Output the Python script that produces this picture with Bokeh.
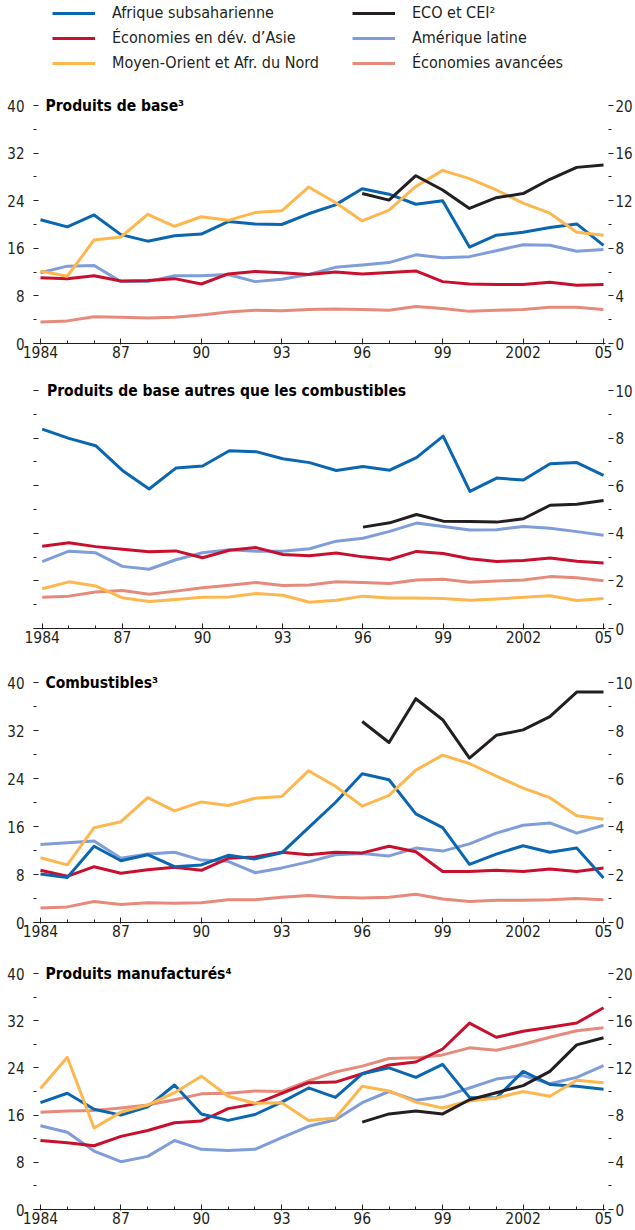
from bokeh.plotting import figure
from bokeh.models import Range1d, LinearAxis, FixedTicker, Label, Legend, LegendItem
from bokeh.layouts import column
from bokeh.embed import file_html
from bokeh.resources import INLINE

# ---------------- data ----------------
years = list(range(1984, 2006))
years_eco = list(range(1996, 2006))

names = ["Afrique subsaharienne", "Économies en dév. d’Asie", "Moyen-Orient et Afr. du Nord",
         "ECO et CEI²", "Amérique latine", "Économies avancées"]
colors = ["#0a66b0", "#c8102e", "#fdb74f", "#231f20", "#7f9dd9", "#e68a7c"]

# Panel 1: Produits de base (left scale 0-40)
p1_afrique = [20.8, 19.6, 21.6, 18.3, 17.2, 18.1, 18.4, 20.5, 20.1, 20.0, 21.8, 23.3,
              26.0, 25.1, 23.4, 24.0, 16.2, 18.2, 18.7, 19.5, 20.1, 16.5]
p1_asie = [11.05, 10.9, 11.4, 10.5, 10.6, 10.9, 10.0, 11.7, 12.1, 11.9, 11.6, 12.0,
           11.7, 11.95, 12.2, 10.4, 10.0, 9.9, 9.9, 10.3, 9.8, 9.9]
p1_moyen_orient = [12.2, 11.3, 17.4, 17.9, 21.7, 19.7, 21.3, 20.7, 22.0, 22.3, 26.3, 23.7,
                   20.6, 22.4, 26.4, 29.1, 27.7, 25.8, 23.6, 21.9, 18.7, 18.2]
p1_eco = [25.2, 24.1, 28.2, 25.8, 22.7, 24.5, 25.2, 27.6, 29.6, 30.0]
p1_amerique = [11.9, 13.0, 13.1, 10.4, 10.4, 11.4, 11.4, 11.6, 10.4, 10.8, 11.6, 12.8,
               13.2, 13.6, 14.9, 14.4, 14.6, 15.6, 16.6, 16.5, 15.5, 15.8]
p1_avancees = [3.6, 3.8, 4.5, 4.4, 4.3, 4.4, 4.8, 5.3, 5.6, 5.5, 5.7, 5.8,
               5.7, 5.6, 6.2, 5.9, 5.4, 5.6, 5.7, 6.1, 6.1, 5.7]

# Panel 2: Produits de base autres que les combustibles (right scale 0-10)
p2_afrique = [8.38, 7.99, 7.68, 6.64, 5.86, 6.74, 6.83, 7.47, 7.43, 7.13, 6.97, 6.64,
              6.81, 6.65, 7.18, 8.08, 5.76, 6.32, 6.24, 6.92, 6.97, 6.43]
p2_asie = [3.46, 3.60, 3.44, 3.33, 3.22, 3.26, 2.97, 3.29, 3.40, 3.11, 3.06, 3.17,
           3.01, 2.90, 3.24, 3.15, 2.93, 2.82, 2.86, 2.96, 2.83, 2.75]
p2_moyen_orient = [1.67, 1.96, 1.79, 1.29, 1.13, 1.22, 1.31, 1.32, 1.47, 1.40, 1.10, 1.19,
                   1.36, 1.28, 1.28, 1.26, 1.19, 1.24, 1.31, 1.38, 1.18, 1.26]
p2_eco = [4.26, 4.44, 4.79, 4.51, 4.50, 4.47, 4.61, 5.18, 5.22, 5.38]
p2_amerique = [2.81, 3.25, 3.18, 2.61, 2.49, 2.89, 3.18, 3.31, 3.25, 3.25, 3.35, 3.67,
               3.79, 4.08, 4.43, 4.29, 4.14, 4.15, 4.29, 4.21, 4.07, 3.92]
p2_avancees = [1.31, 1.36, 1.53, 1.60, 1.44, 1.57, 1.71, 1.82, 1.93, 1.81, 1.83, 1.96,
               1.93, 1.89, 2.04, 2.07, 1.94, 2.00, 2.04, 2.18, 2.13, 2.01]

# Panel 3: Combustibles (left scale 0-40)
p3_afrique = [8.1, 7.5, 12.7, 10.3, 11.3, 9.3, 9.6, 11.2, 10.6, 11.6, 15.8, 20.0,
              24.8, 23.8, 18.1, 15.8, 9.7, 11.4, 12.8, 11.7, 12.4, 7.4]
p3_asie = [8.7, 7.7, 9.3, 8.2, 8.8, 9.2, 8.7, 10.7, 10.9, 11.7, 11.3, 11.7,
           11.6, 12.7, 11.8, 8.5, 8.5, 8.7, 8.5, 8.9, 8.5, 9.1]
p3_moyen_orient = [10.8, 9.6, 15.8, 16.8, 20.8, 18.6, 20.1, 19.5, 20.7, 21.0, 25.3, 22.7,
                   19.4, 21.2, 25.4, 27.9, 26.5, 24.4, 22.4, 20.8, 17.8, 17.2]
p3_eco = [33.5, 30.0, 37.3, 33.8, 27.4, 31.2, 32.1, 34.3, 38.4, 38.4]
p3_amerique = [13.0, 13.3, 13.6, 10.7, 11.4, 11.7, 10.4, 10.2, 8.3, 9.1, 10.1, 11.3,
               11.5, 11.1, 12.4, 11.9, 13.1, 14.9, 16.2, 16.6, 14.9, 16.2]
p3_avancees = [2.4, 2.6, 3.5, 3.0, 3.3, 3.2, 3.3, 3.8, 3.8, 4.2, 4.5, 4.2,
               4.1, 4.2, 4.7, 3.9, 3.5, 3.7, 3.7, 3.8, 4.0, 3.8]

# Panel 4: Produits manufactures (left scale 0-40)
p4_afrique = [18.1, 19.7, 17.0, 16.0, 17.4, 21.1, 16.2, 15.1, 16.1, 18.2, 20.6, 19.0,
              23.0, 24.0, 22.4, 24.6, 19.0, 18.9, 23.4, 21.2, 20.9, 20.4]
p4_asie = [11.7, 11.3, 10.8, 12.4, 13.4, 14.7, 15.0, 17.1, 17.9, 19.7, 21.5, 21.6,
           23.0, 24.5, 25.0, 27.2, 31.6, 29.2, 30.2, 30.9, 31.6, 34.2]
p4_moyen_orient = [20.5, 25.8, 13.8, 16.5, 17.7, 19.8, 22.6, 19.2, 18.0, 18.1, 15.1, 15.5,
                   20.9, 20.1, 18.2, 17.2, 18.4, 18.9, 20.0, 19.2, 21.9, 21.5]
p4_eco = [14.8, 16.2, 16.7, 16.2, 18.6, 19.8, 21.0, 23.4, 27.9, 29.1]
p4_amerique = [14.2, 13.1, 9.9, 8.1, 9.0, 11.7, 10.2, 10.0, 10.2, 12.2, 14.1, 15.2,
               18.1, 20.0, 18.5, 19.1, 20.6, 22.1, 22.7, 21.3, 22.4, 24.4]
p4_avancees = [16.5, 16.7, 16.8, 17.2, 17.7, 18.6, 19.6, 19.7, 20.1, 20.0, 21.8, 23.3,
               24.3, 25.6, 25.7, 26.2, 27.4, 27.0, 28.0, 29.2, 30.3, 30.8]

titles = ["Produits de base³", "Produits de base autres que les combustibles",
          "Combustibles³", "Produits manufacturés⁴"]

x_major = [1984, 1987, 1990, 1993, 1996, 1999, 2002, 2005]
x_labels = ["1984", "87", "90", "93", "96", "99", "2002", "05"]

# ---------------- style ----------------
FONT = "DejaVu Sans Condensed"
INK = "#231f20"
LW = 3
W = 635


def style_x(ax):
    ax.ticker = FixedTicker(ticks=x_major, minor_ticks=years)
    ax.major_label_overrides = {y: s for y, s in zip(x_major, x_labels)}
    ax.axis_line_color = INK
    ax.axis_line_width = 1.2
    ax.major_tick_line_color = INK
    ax.minor_tick_line_color = INK
    ax.major_tick_in = 5
    ax.major_tick_out = 1
    ax.minor_tick_in = 3
    ax.minor_tick_out = 0
    ax.major_label_standoff = 1
    ax.major_label_text_font = FONT
    ax.major_label_text_font_size = "15.5px"
    ax.major_label_text_color = INK


def style_y(ax, majors, minors, side, labels=True):
    ax.ticker = FixedTicker(ticks=majors, minor_ticks=minors)
    ax.axis_line_color = None
    ax.major_tick_line_color = INK
    ax.minor_tick_line_color = INK
    if side == "left":
        ax.major_tick_in = 5
        ax.major_tick_out = 0
        ax.minor_tick_in = 3
        ax.minor_tick_out = 0
        ax.major_label_standoff = 9
    else:
        ax.major_tick_in = -3
        ax.major_tick_out = 8
        ax.minor_tick_in = -3
        ax.minor_tick_out = 6
        ax.major_label_standoff = 2
    ax.major_label_text_font = FONT
    ax.major_label_text_font_size = "15px"
    ax.major_label_text_color = INK
    if not labels:
        ax.major_label_overrides = {m: "" for m in majors}
        ax.major_label_standoff = 0


def make_panel(height, b_top, b_bottom, b_left, b_right, x0, x1, ymax, ytop, rtop,
               lmaj, lmin, rmaj, rmin, left_labels, title, series, title_x):
    p = figure(width=W, height=height, output_backend="svg", toolbar_location=None,
               x_range=Range1d(x0, x1), y_range=Range1d(0, ytop),
               min_border_top=b_top, min_border_bottom=b_bottom,
               min_border_left=b_left, min_border_right=b_right,
               x_axis_location=None, y_axis_location=None)
    p.outline_line_color = None
    p.grid.visible = False
    p.background_fill_color = "white"
    p.border_fill_color = "white"
    p.extra_y_ranges = {"r": Range1d(0, rtop)}

    xa = LinearAxis()
    style_x(xa)
    p.add_layout(xa, "below")
    la = LinearAxis()
    style_y(la, lmaj, lmin, "left", left_labels)
    p.add_layout(la, "left")
    ra = LinearAxis(y_range_name="r")
    style_y(ra, rmaj, rmin, "right")
    p.add_layout(ra, "right")

    order = [5, 4, 1, 0, 2, 3]
    rmap = {}
    for i in order:
        xs = years_eco if i == 3 else years
        rmap[i] = p.line(xs, series[i], line_color=colors[i], line_width=LW, line_join="round")
    renderers = [rmap[i] for i in range(6)]

    p.add_layout(Label(x=title_x, y=ymax, text=title, text_font=FONT,
                       text_font_style="bold", text_font_size="15.5px", text_color="black",
                       text_baseline="middle", text_align="left"))
    return p, renderers


ticks40 = [0, 8, 16, 24, 32, 40]
minor40 = [4, 12, 20, 28, 36]
ticks20 = [0, 4, 8, 12, 16, 20]
minor20 = [2, 6, 10, 14, 18]
ticks10 = [0, 2, 4, 6, 8, 10]
minor10 = [1, 3, 5, 7, 9]

s1 = [p1_afrique, p1_asie, p1_moyen_orient, p1_eco, p1_amerique, p1_avancees]
s2 = [p2_afrique, p2_asie, p2_moyen_orient, p2_eco, p2_amerique, p2_avancees]
s3 = [p3_afrique, p3_asie, p3_moyen_orient, p3_eco, p3_amerique, p3_avancees]
s4 = [p4_afrique, p4_asie, p4_moyen_orient, p4_eco, p4_amerique, p4_avancees]

X0, X1 = 1983.74, 2005.074
# panel 1: frame from canvas top (legend lives inside) ; 40 at y=105, 0 at y=343
f1, r1 = make_panel(366, 0, 23, 33, 28, X0, X1, 40, 40 * 343 / 238, 20 * 343 / 238,
                    ticks40, minor40, ticks20, minor20, True, titles[0], s1, 1984.186)
# panel 2: 10 at y=390, 0 at y=628
f2, _ = make_panel(289, 12, 27, 15, 28, 1983.675, 2005.072, 10, 10 * 250 / 238, 10 * 250 / 238,
                   ticks10, minor10, ticks10, minor10, False, titles[1], s2, 1984.18)
# panel 3: 40 at y=682, 0 at y=922
f3, _ = make_panel(291, 15, 24, 33, 28, X0, X1, 40, 40 * 252 / 240, 10 * 252 / 240,
                   ticks40, minor40, ticks10, minor10, True, titles[2], s3, 1984.186)
# panel 4: 40 at y=973, 0 at y=1209
f4, _ = make_panel(283, 15, 20, 33, 28, X0, X1, 40, 40 * 248 / 236, 20 * 248 / 236,
                   ticks40, minor40, ticks20, minor20, True, titles[3], s4, 1984.186)


def make_legend(idx, loc):
    return Legend(items=[LegendItem(label=names[i], renderers=[r1[i]]) for i in idx],
                  location=loc, orientation="vertical", padding=0, margin=0, spacing=6,
                  glyph_width=43, glyph_height=16, label_height=16, label_standoff=17,
                  label_text_font=FONT, label_text_font_size="16px", label_text_color=INK,
                  label_text_baseline="middle",
                  background_fill_alpha=0, border_line_color=None)


leg_bottom = 343 - 72
f1.add_layout(make_legend([0, 1, 2], (19, leg_bottom)), "center")
f1.add_layout(make_legend([3, 4, 5], (319, leg_bottom)), "center")

layout = column(f1, f2, f3, f4, spacing=0)
open("out.html", "w").write(file_html(layout, INLINE))
